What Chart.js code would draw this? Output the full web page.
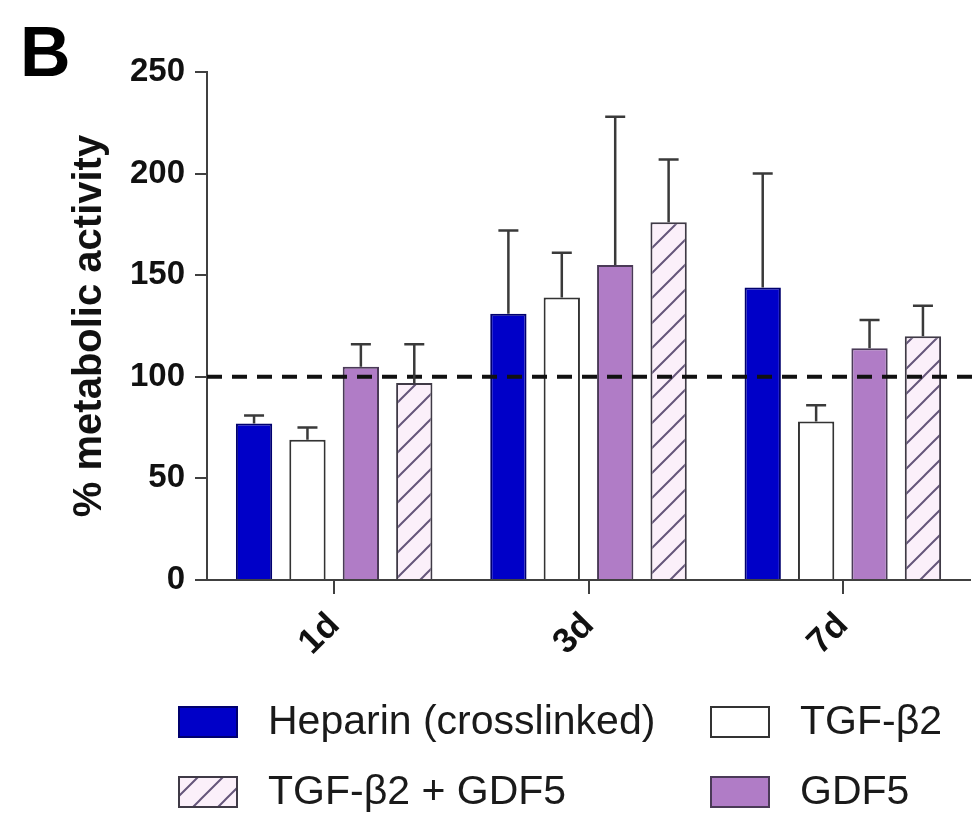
<!DOCTYPE html>
<html>
<head>
<meta charset="utf-8">
<script src="https://cdn.jsdelivr.net/npm/chart.js@4.4.1/dist/chart.umd.min.js"></script>
<style>
  html, body { margin: 0; padding: 0; background: #ffffff; }
  canvas { display: block; }
</style>
</head>
<body>
<canvas id="chart" width="977" height="820"></canvas>
<script>
// Time points and treatment groups
const days = ['1d', '3d', '7d'];
const seriesNames = ['Heparin (crosslinked)', 'TGF-\u03B22', 'GDF5', 'TGF-\u03B22 + GDF5'];

// Mean % metabolic activity and upper error (SD) per group
const heparin     = [77, 131, 144];
const heparinSD   = [4, 41, 56];
const tgfb2       = [69, 139, 78];
const tgfb2SD     = [6, 22, 8];
const gdf5        = [105, 155, 114];
const gdf5SD      = [11, 73, 14];
const tgfb2Gdf5   = [97, 176, 120];
const tgfb2Gdf5SD = [19, 31, 15];

// Axis range and the 100 % control reference line
const yMin = 0;
const yMax = 250;
const yStep = 50;
const controlLevel = 100;

const FONT = '"Liberation Sans", Arial, Helvetica, sans-serif';
const AXIS_COLOR = '#404040';

// Diagonal hatch fill for the combination group
function makeHatch() {
  const s = 25;
  const tile = document.createElement('canvas');
  tile.width = s; tile.height = s;
  const g = tile.getContext('2d');
  g.fillStyle = '#fbf0fa';
  g.fillRect(0, 0, s, s);
  g.strokeStyle = '#65567a';
  g.lineWidth = 2;
  g.beginPath();
  g.moveTo(-3, s + 3); g.lineTo(s + 3, -3);
  g.moveTo(-3, 3); g.lineTo(3, -3);
  g.moveTo(s - 3, s + 3); g.lineTo(s + 3, s - 3);
  g.stroke();
  return g.createPattern(tile, 'repeat');
}
const hatch = makeHatch();

const styles = [
  { fill: '#0000c8', border: '#00006e' },
  { fill: '#ffffff', border: '#333333' },
  { fill: '#b07cc6', border: '#4a3a57' },
  { fill: hatch,     border: '#3f3a46' }
];
const values = [heparin, tgfb2, gdf5, tgfb2Gdf5];
const errors = [heparinSD, tgfb2SD, gdf5SD, tgfb2Gdf5SD];

const datasets = seriesNames.map((name, i) => ({
  label: name,
  data: values[i],
  sd: errors[i],
  backgroundColor: styles[i].fill,
  borderColor: styles[i].border,
  borderWidth: 2,
  categoryPercentage: 0.84,
  barPercentage: 0.68
}));

// Upward error bars, the dashed control line, panel letter and legend
const decorations = {
  id: 'decorations',
  afterDatasetsDraw(chart) {
    const ctx = chart.ctx;
    const yScale = chart.scales.y;
    const area = chart.chartArea;

    // dashed 100 % line
    const yRef = yScale.getPixelForValue(controlLevel);
    ctx.save();
    ctx.strokeStyle = '#111111';
    ctx.lineWidth = 4;
    ctx.setLineDash([15, 10]);
    ctx.beginPath();
    ctx.moveTo(area.left, yRef);
    ctx.lineTo(area.right + 5, yRef);
    ctx.stroke();
    ctx.restore();

    // error bars
    ctx.save();
    ctx.strokeStyle = '#3a3a3a';
    ctx.lineWidth = 2.5;
    chart.data.datasets.forEach((ds, i) => {
      const meta = chart.getDatasetMeta(i);
      meta.data.forEach((bar, j) => {
        const top = yScale.getPixelForValue(ds.data[j] + ds.sd[j]);
        const half = 10;
        ctx.beginPath();
        ctx.moveTo(bar.x, bar.y);
        ctx.lineTo(bar.x, top);
        ctx.moveTo(bar.x - half, top);
        ctx.lineTo(bar.x + half, top);
        ctx.stroke();
      });
    });
    ctx.restore();
  },
  afterDraw(chart) {
    const ctx = chart.ctx;
    ctx.save();
    // panel letter
    ctx.fillStyle = '#000000';
    ctx.font = 'bold 70px ' + FONT;
    ctx.textAlign = 'left';
    ctx.textBaseline = 'alphabetic';
    ctx.fillText('B', 20, 76);

    // legend in two columns
    const order = [0, 1, 3, 2];
    const cols = [179, 711];
    const rows = [722, 792];
    const boxW = 58, boxH = 30;
    ctx.font = '41px ' + FONT;
    ctx.textBaseline = 'middle';
    order.forEach((dsIndex, k) => {
      const ds = chart.data.datasets[dsIndex];
      const x = cols[k % 2];
      const cy = rows[Math.floor(k / 2)];
      ctx.fillStyle = ds.backgroundColor;
      ctx.fillRect(x, cy - boxH / 2, boxW, boxH);
      ctx.strokeStyle = ds.borderColor;
      ctx.lineWidth = 2;
      ctx.strokeRect(x, cy - boxH / 2, boxW, boxH);
      ctx.fillStyle = '#1a1a1a';
      ctx.fillText(ds.label, x + 89, cy + 1);
    });
    ctx.restore();
  }
};

new Chart(document.getElementById('chart'), {
  type: 'bar',
  data: { labels: days, datasets },
  plugins: [decorations],
  options: {
    responsive: false,
    animation: false,
    devicePixelRatio: 1,
    layout: { padding: { top: 72, right: 7, bottom: 0, left: 0 } },
    plugins: {
      legend: { display: false },
      tooltip: { enabled: false }
    },
    scales: {
      x: {
        grid: {
          display: true,
          drawOnChartArea: false,
          drawTicks: true,
          tickLength: 14,
          offset: false,
          color: AXIS_COLOR,
          lineWidth: 2
        },
        border: { display: true, color: AXIS_COLOR, width: 2 },
        ticks: {
          color: '#111111',
          font: { family: FONT, size: 35, weight: 'bold' },
          minRotation: 45,
          maxRotation: 45,
          padding: 11
        },
        afterFit(scale) { scale.height = 240; }
      },
      y: {
        min: yMin,
        max: yMax,
        grid: {
          display: true,
          drawOnChartArea: false,
          drawTicks: true,
          tickLength: 12,
          color: AXIS_COLOR,
          lineWidth: 2
        },
        border: { display: true, color: AXIS_COLOR, width: 2 },
        ticks: {
          stepSize: yStep,
          color: '#111111',
          font: { family: FONT, size: 33, weight: 'bold' },
          padding: 10
        },
        title: {
          display: true,
          text: '% metabolic activity',
          color: '#111111',
          font: { family: FONT, size: 40, weight: 'bold' },
          padding: { top: 66, bottom: 0 }
        },
        afterFit(scale) { scale.width = 207; }
      }
    }
  }
});
</script>
</body>
</html>
